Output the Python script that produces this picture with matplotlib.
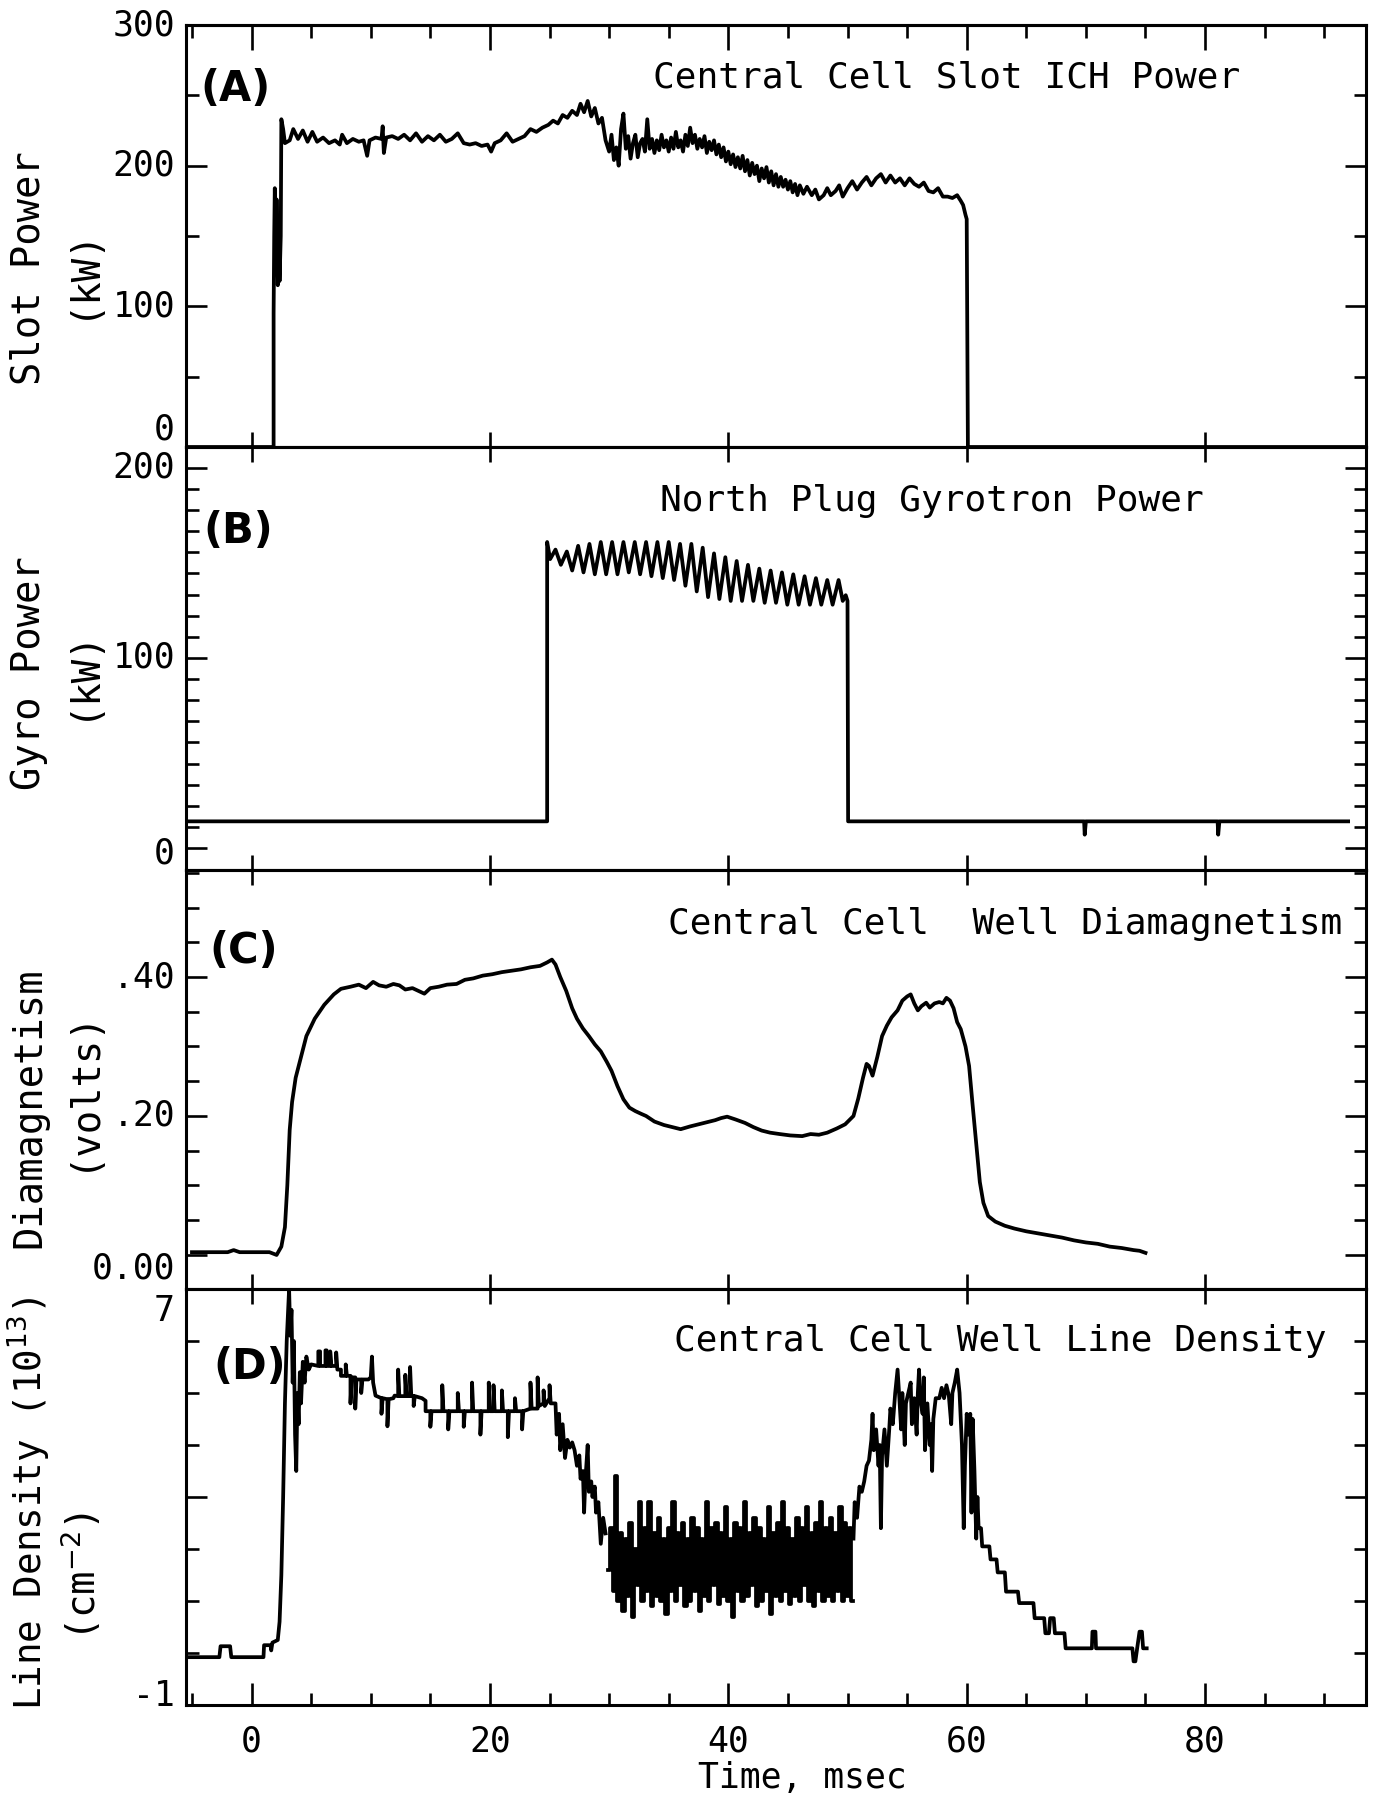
import numpy as np
import matplotlib
matplotlib.use("Agg")
import matplotlib.pyplot as plt
from matplotlib.ticker import MultipleLocator, FixedLocator
from matplotlib.transforms import ScaledTranslation

plt.rcParams['font.family'] = ['DejaVu Sans Mono', 'DejaVu Sans']
plt.rcParams['mathtext.fontset'] = 'dejavusans'

# ---------------------------------------------------------------- data
time_window = (-5.5, 93.5)          # msec

# (A) central cell slot ICH power, kW
slot_power_trace = [
    (-5.5, 0), (1.85, 0), (1.85, 95), (1.9, 150), (1.95, 184), (2.05, 130), (2.1, 176),
    (2.2, 115), (2.3, 160), (2.35, 118), (2.45, 150), (2.5, 233), (2.65, 226), (2.8, 216),
    (3.2, 218), (3.5, 226), (3.9, 219), (4.3, 225), (4.7, 217), (5.1, 224), (5.5, 217),
    (6.0, 220), (6.5, 216), (7.0, 218), (7.4, 215), (7.6, 222), (8.0, 216), (8.5, 219),
    (9.0, 217), (9.4, 218), (9.7, 207), (9.9, 218), (10.4, 220), (10.9, 219), (11.0, 228),
    (11.1, 209), (11.3, 220), (11.8, 221), (12.3, 219), (12.8, 222), (13.3, 218), (13.8, 223),
    (14.3, 217), (14.8, 221), (15.3, 218), (15.8, 222), (16.3, 217), (16.8, 219), (17.3, 223),
    (17.8, 216), (18.3, 215), (18.8, 216), (19.3, 214), (19.8, 215), (20.1, 210), (20.4, 216),
    (20.9, 218), (21.4, 223), (21.9, 217), (22.4, 219), (22.9, 221), (23.4, 226), (23.9, 224),
    (24.4, 227), (24.9, 229), (25.3, 232), (25.7, 230), (26.1, 236), (26.5, 234), (26.9, 239),
    (27.3, 236), (27.6, 244), (27.9, 238), (28.2, 246), (28.5, 235), (28.8, 241), (29.1, 230),
    (29.4, 234), (29.7, 218), (30.0, 210), (30.2, 222), (30.4, 204), (30.6, 213), (30.8, 200),
    (31.0, 226), (31.2, 237), (31.4, 212), (31.6, 221), (31.8, 205), (32.0, 216), (32.2, 222),
    (32.4, 206), (32.6, 216), (32.8, 219), (33.0, 210), (33.2, 233), (33.4, 212), (33.6, 219),
    (33.8, 209), (34.0, 218), (34.2, 211), (34.4, 222), (34.6, 213), (34.8, 218), (35.0, 210),
    (35.2, 220), (35.4, 212), (35.6, 224), (35.8, 213), (36.0, 218), (36.2, 210), (36.4, 222),
    (36.6, 214), (36.8, 227), (37.0, 216), (37.2, 222), (37.4, 212), (37.6, 219), (37.8, 213),
    (38.0, 221), (38.2, 209), (38.4, 217), (38.6, 211), (38.8, 218), (39.0, 208), (39.2, 215),
    (39.4, 206), (39.6, 213), (39.8, 203), (40.0, 210), (40.2, 201), (40.4, 208), (40.6, 199),
    (40.8, 206), (41.0, 198), (41.2, 207), (41.4, 196), (41.6, 204), (41.8, 193), (42.0, 202),
    (42.2, 194), (42.4, 200), (42.6, 189), (42.8, 198), (43.0, 191), (43.2, 199), (43.4, 188),
    (43.6, 196), (43.8, 186), (44.0, 194), (44.2, 185), (44.4, 192), (44.6, 185), (44.8, 190),
    (45.0, 183), (45.2, 189), (45.4, 181), (45.6, 187), (45.8, 179), (46.0, 186), (46.3, 180),
    (46.6, 185), (47.0, 179), (47.3, 183), (47.6, 176), (48.0, 179), (48.3, 184), (48.6, 179),
    (49.0, 182), (49.3, 186), (49.6, 178), (50.0, 184), (50.4, 189), (50.8, 183), (51.2, 188),
    (51.6, 192), (52.0, 186), (52.4, 191), (52.8, 194), (53.2, 188), (53.6, 193), (54.0, 188),
    (54.4, 191), (54.8, 186), (55.2, 191), (55.6, 187), (56.0, 185), (56.4, 188), (56.8, 182),
    (57.2, 181), (57.6, 184), (58.0, 178), (58.4, 178), (58.8, 177), (59.2, 179), (59.5, 175),
    (59.7, 172), (59.9, 165), (60.0, 162), (60.1, 0), (93.5, 0),
]

# (B) north plug gyrotron power, kW
gyro_power_trace = [
    (-5.5, 14), (24.8, 14), (24.8, 161), (25.05, 152),
    (25.5, 157), (25.95, 149), (26.45, 156), (26.9, 146), (27.4, 159), (27.85, 145),
    (28.35, 160), (28.8, 144), (29.3, 161), (29.75, 144), (30.25, 161), (30.7, 144),
    (31.2, 161), (31.65, 145), (32.15, 161), (32.6, 144), (33.1, 161), (33.55, 143),
    (34.05, 161), (34.5, 142), (35.0, 161), (35.45, 141), (35.95, 160), (36.4, 138),
    (36.9, 160), (37.35, 135), (37.85, 158), (38.3, 132), (38.8, 155), (39.25, 131),
    (39.75, 153), (40.2, 130), (40.7, 151), (41.15, 130), (41.65, 149), (42.1, 130),
    (42.6, 147), (43.05, 129), (43.55, 146), (44.0, 129), (44.5, 145), (44.95, 128),
    (45.45, 144), (45.9, 128), (46.4, 143), (46.85, 128), (47.35, 142), (47.8, 128),
    (48.3, 141), (48.75, 128), (49.25, 141), (49.6, 130), (49.85, 133), (50.0, 130),
    (50.05, 14), (69.85, 14), (69.9, 7), (70.0, 14), (81.05, 14), (81.1, 7), (81.2, 14),
    (92.0, 14),
]

# (C) central cell well diamagnetism, volts
diamagnetism_trace = [
    (-5.0, 0.004), (-2.0, 0.004), (-1.5, 0.007), (-1.0, 0.004), (1.5, 0.004), (2.1, 0.0),
    (2.5, 0.012), (2.8, 0.04), (3.0, 0.10), (3.2, 0.18), (3.4, 0.22), (3.7, 0.255),
    (4.0, 0.275), (4.6, 0.315), (5.3, 0.34), (6.1, 0.36), (6.9, 0.375), (7.5, 0.383),
    (8.3, 0.386), (9.0, 0.389), (9.6, 0.384), (10.2, 0.393), (10.7, 0.388), (11.3, 0.386),
    (11.9, 0.390), (12.4, 0.388), (12.9, 0.382), (13.5, 0.384), (14.0, 0.380), (14.5, 0.376),
    (15.0, 0.384), (15.7, 0.386), (16.4, 0.389), (17.2, 0.390), (17.9, 0.396), (18.6, 0.398),
    (19.4, 0.402), (20.2, 0.404), (21.0, 0.407), (21.8, 0.409), (22.6, 0.411), (23.4, 0.414),
    (24.2, 0.416), (24.8, 0.421), (25.2, 0.425), (25.5, 0.418), (25.9, 0.400), (26.4, 0.380),
    (26.9, 0.355), (27.3, 0.340), (27.8, 0.326), (28.3, 0.315), (28.8, 0.303), (29.3, 0.293),
    (29.8, 0.278), (30.2, 0.265), (30.7, 0.243), (31.2, 0.224), (31.7, 0.212), (32.2, 0.207),
    (32.7, 0.203), (33.1, 0.200), (33.8, 0.192), (34.6, 0.187), (35.3, 0.184), (36.0, 0.181),
    (36.8, 0.185), (37.5, 0.188), (38.2, 0.191), (38.9, 0.194), (39.4, 0.197), (39.9, 0.199),
    (40.6, 0.195), (41.4, 0.190), (42.1, 0.184), (42.8, 0.179), (43.5, 0.176), (44.3, 0.174),
    (45.2, 0.172), (46.2, 0.171), (46.9, 0.174), (47.6, 0.173), (48.3, 0.176), (49.1, 0.182),
    (49.8, 0.188), (50.5, 0.200), (50.9, 0.225), (51.3, 0.255), (51.6, 0.275), (51.8, 0.272),
    (52.1, 0.258), (52.5, 0.285), (52.9, 0.315), (53.3, 0.330), (53.7, 0.342), (54.2, 0.352),
    (54.6, 0.366), (55.0, 0.372), (55.3, 0.375), (55.6, 0.362), (55.9, 0.352), (56.2, 0.358),
    (56.6, 0.363), (56.9, 0.356), (57.3, 0.362), (57.7, 0.364), (58.0, 0.362), (58.3, 0.370),
    (58.6, 0.366), (58.9, 0.355), (59.2, 0.335), (59.5, 0.325), (59.9, 0.300), (60.2, 0.272),
    (60.5, 0.215), (60.8, 0.160), (61.1, 0.105), (61.4, 0.075), (61.8, 0.056), (62.4, 0.048),
    (63.2, 0.042), (64.0, 0.038), (65.0, 0.034), (66.0, 0.031), (67.0, 0.028), (68.0, 0.025),
    (69.0, 0.021), (70.0, 0.018), (71.0, 0.016), (72.0, 0.012), (73.0, 0.010), (74.0, 0.007),
    (74.5, 0.006), (75.0, 0.003),
]

# (D) central cell well line density, 1e13 cm^-2
density_trace_early = [
    (-5.3, -0.08), (-2.7, -0.08), (-2.6, 0.13), (-1.8, 0.13), (-1.7, -0.08), (1.0, -0.08),
    (1.05, 0.15), (1.6, 0.15), (1.65, 0.05), (1.75, 0.2), (2.2, 0.25), (2.35, 0.6),
    (2.5, 1.5), (2.65, 3.0), (2.8, 4.8), (2.95, 6.0), (3.05, 6.5), (3.15, 7.0), (3.25, 6.1),
    (3.35, 6.6), (3.45, 5.2), (3.55, 6.0), (3.65, 4.2), (3.75, 3.5), (3.85, 5.0), (3.95, 4.4),
    (4.05, 5.4), (4.15, 4.8), (4.3, 5.6), (4.45, 5.2), (4.6, 5.7), (4.8, 5.45), (5.0, 5.55),
    (5.6, 5.52), (5.6, 5.8), (5.75, 5.8), (5.75, 5.52), (6.2, 5.52), (6.2, 5.82), (6.3, 5.82),
    (6.3, 5.52), (6.6, 5.52), (6.6, 5.8), (6.7, 5.52), (7.1, 5.52), (7.1, 5.78), (7.2, 5.45),
    (7.5, 5.45), (7.5, 5.33), (7.9, 5.33), (7.9, 5.55), (8.0, 5.33), (8.3, 5.33), (8.3, 4.8),
    (8.4, 5.3), (8.7, 5.3), (8.7, 4.7), (8.8, 5.26), (9.2, 5.26), (9.2, 5.0), (9.3, 5.26),
    (9.8, 5.26), (10.0, 5.3), (10.1, 5.7), (10.2, 5.2), (10.4, 4.95), (10.9, 4.9), (10.9, 4.6),
    (11.0, 4.9), (11.4, 4.88), (11.4, 4.36), (11.5, 4.88), (11.9, 4.9), (12.0, 4.95),
    (12.3, 4.94), (12.3, 5.45), (12.4, 4.94), (12.9, 4.94), (12.9, 5.35), (13.0, 4.94),
    (13.3, 4.94), (13.3, 5.5), (13.4, 4.94), (13.6, 4.94), (13.6, 4.75), (13.7, 4.94),
    (14.3, 4.9), (14.6, 4.85), (14.6, 4.65), (15.0, 4.65), (15.0, 4.35), (15.1, 4.65),
    (16.0, 4.65), (16.0, 5.15), (16.1, 4.65), (16.5, 4.65), (16.5, 4.3), (16.6, 4.65),
    (17.3, 4.65), (17.3, 5.0), (17.4, 4.65), (17.8, 4.65), (17.8, 4.35), (17.9, 4.65),
    (18.5, 4.65), (18.5, 5.2), (18.6, 4.65), (19.2, 4.65), (19.2, 4.2), (19.3, 4.65),
    (19.9, 4.65), (19.9, 5.2), (20.0, 4.65), (20.3, 4.65), (20.3, 5.15), (20.4, 4.65),
    (21.0, 4.65), (21.0, 5.05), (21.1, 4.65), (21.5, 4.65), (21.5, 4.15), (21.6, 4.65),
    (22.1, 4.65), (22.1, 4.9), (22.2, 4.65), (22.7, 4.65), (22.7, 4.3), (22.8, 4.65),
    (23.4, 4.7), (23.4, 5.2), (23.5, 4.7), (24.0, 4.7), (24.0, 5.3), (24.1, 4.75),
    (24.5, 4.8), (24.5, 5.05), (24.6, 4.75), (25.0, 4.9), (25.0, 5.15), (25.1, 4.8),
    (25.5, 4.8), (25.6, 4.2), (25.8, 4.6), (25.9, 3.9), (26.1, 4.4), (26.3, 3.75),
    (26.5, 4.1), (26.7, 3.95), (26.9, 4.05), (27.1, 3.9), (27.3, 3.6), (27.5, 3.8),
    (27.6, 3.35), (27.8, 3.5), (27.9, 2.7), (28.0, 3.3), (28.2, 4.0), (28.3, 3.1),
    (28.5, 3.3), (28.6, 3.0), (28.8, 3.2), (28.9, 2.7), (29.1, 2.9), (29.3, 2.1),
    (29.5, 2.6), (29.7, 2.3),
]
# digitizer samples through the low-density phase (start, step in msec)
density_band_t0 = 29.9
density_band_dt = 0.2
density_band = [
    1.6, 2.4, 1.2, 3.4, 1.0, 2.3, 0.8, 2.2, 1.1, 2.5, 0.7, 2.0, 1.3, 2.9, 1.0, 2.4, 1.2, 2.9,
    0.9, 2.3, 1.1, 2.6, 1.0, 2.2, 0.75, 2.4, 1.2, 2.9, 1.0, 2.3, 1.3, 2.5, 0.9, 2.2, 1.0, 2.6,
    1.2, 2.4, 0.8, 2.2, 1.1, 2.9, 1.0, 2.4, 1.3, 2.5, 0.95, 2.3, 1.1, 2.8, 1.0, 2.2, 0.7, 2.5,
    1.2, 2.4, 1.0, 2.9, 1.1, 2.3, 1.3, 2.6, 0.9, 2.4, 1.0, 2.2, 1.2, 2.8, 0.75, 2.3, 1.1, 2.5,
    1.0, 2.9, 1.2, 2.4, 0.95, 2.2, 1.1, 2.6, 1.0, 2.4, 1.3, 2.8, 1.0, 2.3, 0.9, 2.5, 1.2, 2.9,
    1.0, 2.4, 1.1, 2.6, 1.0, 2.3, 1.2, 2.8, 1.0, 2.5, 1.1, 2.4, 1.0,
]
density_trace_late = [
    (50.5, 2.2), (50.6, 2.9), (50.8, 2.6), (51.0, 3.2), (51.2, 3.1), (51.4, 3.3), (51.6, 3.6),
    (51.8, 3.7), (52.0, 4.1), (52.1, 4.6), (52.2, 3.9), (52.4, 4.3), (52.6, 3.6), (52.7, 4.0),
    (52.8, 2.4), (52.9, 3.8), (53.1, 4.3), (53.3, 3.6), (53.5, 4.3), (53.6, 4.7), (53.8, 4.4),
    (54.0, 5.0), (54.2, 5.45), (54.35, 4.9), (54.5, 4.3), (54.6, 5.0), (54.8, 4.0), (54.9, 4.8),
    (55.1, 5.0), (55.3, 5.2), (55.4, 4.4), (55.6, 4.9), (55.8, 4.2), (55.9, 5.0), (56.0, 5.45),
    (56.1, 4.9), (56.3, 4.6), (56.4, 5.3), (56.5, 3.9), (56.7, 4.8), (56.9, 4.0), (57.0, 4.4),
    (57.1, 3.5), (57.2, 4.5), (57.4, 4.9), (57.7, 4.9), (57.9, 5.1), (58.1, 4.9), (58.3, 5.15),
    (58.5, 4.95), (58.7, 4.4), (58.8, 5.0), (59.0, 5.2), (59.2, 5.45), (59.4, 5.0), (59.6, 4.0),
    (59.75, 2.4), (59.85, 3.6), (60.0, 4.6), (60.15, 4.2), (60.3, 4.6), (60.4, 2.7), (60.5, 4.5),
    (60.65, 3.5), (60.8, 2.2), (60.9, 3.0), (61.0, 2.4), (61.2, 2.4), (61.3, 2.05), (61.9, 2.05),
    (62.0, 1.8), (62.5, 1.8), (62.6, 1.55), (63.2, 1.55), (63.3, 1.18), (64.3, 1.18),
    (64.4, 0.96), (65.6, 0.96), (65.7, 0.67), (66.5, 0.67), (66.6, 0.38), (66.9, 0.38),
    (67.0, 0.67), (67.3, 0.67), (67.4, 0.38), (68.2, 0.38), (68.3, 0.09), (70.5, 0.09),
    (70.55, 0.41), (70.8, 0.41), (70.85, 0.09), (73.9, 0.09), (74.0, -0.16), (74.15, -0.16),
    (74.3, 0.09), (74.5, 0.41), (74.7, 0.41), (74.8, 0.09), (75.1, 0.09),
]

x_tick_values = [0, 20, 40, 60, 80]
x_tick_labels = ['0', '20', '40', '60', '80']

# ---------------------------------------------------------------- figure
W, H = 1398, 1797
fig = plt.figure(figsize=(W / 100, H / 100), dpi=100)

LEFT, RIGHT = 186, 1366
panel_rows = [(25, 447), (447, 870), (870, 1289), (1289, 1705)]


def make_axes(top_px, bottom_px):
    return fig.add_axes([LEFT / W, 1 - bottom_px / H, (RIGHT - LEFT) / W,
                         (bottom_px - top_px) / H])


LW_FRAME = 2.2
LW_TICK = 1.9
LW_DATA = 2.7
TICK_FS = 25


def style_axes(ax, ylim, top_major=11, top_minor=None):
    ax.set_xlim(*time_window)
    ax.set_ylim(*ylim)
    for s in ax.spines.values():
        s.set_linewidth(LW_FRAME)
    ax.xaxis.set_major_locator(MultipleLocator(20))
    ax.tick_params(axis='x', which='both', direction='in', bottom=True, top=False,
                   labelbottom=False, width=LW_TICK, length=11)
    ax.tick_params(axis='y', which='both', direction='in', left=True, right=True,
                   labelleft=False, labelright=False, width=LW_TICK)
    ax.tick_params(axis='y', which='major', length=15)
    ax.tick_params(axis='y', which='minor', length=9)
    top = ax.secondary_xaxis('top')
    top.xaxis.set_major_locator(MultipleLocator(20))
    if top_minor is not None:
        top.xaxis.set_minor_locator(MultipleLocator(5))
        top.tick_params(axis='x', which='minor', direction='in', width=LW_TICK,
                        length=top_minor)
    top.tick_params(axis='x', which='major', direction='in', labeltop=False,
                    width=LW_TICK, length=top_major)
    top.spines['top'].set_linewidth(LW_FRAME)


def y_label_text(ax, value, text, dy_px=0):
    tr = ax.get_yaxis_transform() + ScaledTranslation(-11 / 100, -dy_px / 100,
                                                      fig.dpi_scale_trans)
    ax.text(0, value, text, transform=tr, ha='right', va='center', fontsize=TICK_FS)


def plot_pairs(ax, pairs, **kw):
    t = [p[0] for p in pairs]
    v = [p[1] for p in pairs]
    ax.plot(t, v, color='black', lw=LW_DATA, solid_joinstyle='round', **kw)


# (A)
axA = make_axes(*panel_rows[0])
style_axes(axA, (0, 300), top_major=18, top_minor=9)
axA.yaxis.set_major_locator(FixedLocator([0, 100, 200, 300]))
axA.yaxis.set_minor_locator(FixedLocator([50, 150, 250]))
plot_pairs(axA, slot_power_trace)
y_label_text(axA, 300, '300')
y_label_text(axA, 200, '200')
y_label_text(axA, 100, '100')
y_label_text(axA, 0, '0', dy_px=-17)

# (B)
axB = make_axes(*panel_rows[1])
style_axes(axB, (-11.6, 211))
axB.yaxis.set_major_locator(FixedLocator([0, 100, 200]))
axB.yaxis.set_minor_locator(FixedLocator(np.linspace(0, 200, 19)))
plot_pairs(axB, gyro_power_trace)
y_label_text(axB, 200, '200')
y_label_text(axB, 100, '100')
y_label_text(axB, 0, '0', dy_px=6)

# (C)
axC = make_axes(*panel_rows[2])
style_axes(axC, (-0.049, 0.554))
axC.yaxis.set_major_locator(FixedLocator([0.0, 0.2, 0.4]))
axC.yaxis.set_minor_locator(MultipleLocator(0.05))
plot_pairs(axC, diamagnetism_trace)
y_label_text(axC, 0.4, '.40')
y_label_text(axC, 0.2, '.20')
y_label_text(axC, 0.0, '0.00', dy_px=14)

# (D)
axD = make_axes(*panel_rows[3])
style_axes(axD, (-1, 7))
axD.yaxis.set_major_locator(FixedLocator([-1, 3, 7]))
axD.yaxis.set_minor_locator(FixedLocator([0, 1, 2, 4, 5, 6]))
axD.xaxis.set_minor_locator(MultipleLocator(5))
axD.tick_params(axis='x', which='major', length=16)
axD.tick_params(axis='x', which='minor', length=9)
axD.set_xticks(x_tick_values, x_tick_labels)
axD.tick_params(axis='x', labelbottom=True, labelsize=TICK_FS, pad=14)
plot_pairs(axD, density_trace_early)
band_t, band_v = [], []
for i, v in enumerate(density_band):
    t0 = density_band_t0 + i * density_band_dt
    band_t += [t0, t0 + density_band_dt]
    band_v += [v, v]
axD.plot(band_t, band_v, color='black', lw=LW_DATA)
plot_pairs(axD, density_trace_late)
y_label_text(axD, 7, '7', dy_px=22)
y_label_text(axD, -1, '-1', dy_px=-9)

# ---------------------------------------------------------------- text
TITLE_FS = 26


def fig_text(px, py, s, **kw):
    fig.text(px / W, 1 - py / H, s, **kw)


fig_text(653, 78, 'Central Cell Slot ICH Power', ha='left', va='center', fontsize=TITLE_FS)
fig_text(660, 501, 'North Plug Gyrotron Power', ha='left', va='center', fontsize=TITLE_FS)
fig_text(668, 924, 'Central Cell  Well Diamagnetism', ha='left', va='center', fontsize=TITLE_FS)
fig_text(674, 1341, 'Central Cell Well Line Density', ha='left', va='center', fontsize=TITLE_FS)

for (px, py, s) in [(235, 89, '(A)'), (238, 531, '(B)'), (244, 951, '(C)'), (250, 1367, '(D)')]:
    fig_text(px, py, s, ha='center', va='center', fontsize=30, family='DejaVu Sans',
             weight='bold')

YL_FS = 28
fig_text(29, 268, 'Slot Power', rotation=90, ha='center', va='center', fontsize=YL_FS)
fig_text(82, 272, '(kW)', rotation=90, ha='center', va='center', fontsize=YL_FS)
fig_text(29, 673, 'Gyro Power', rotation=90, ha='center', va='center', fontsize=YL_FS)
fig_text(82, 673, '(kW)', rotation=90, ha='center', va='center', fontsize=YL_FS)
fig_text(29, 1108, 'Diamagnetism', rotation=90, ha='center', va='center', fontsize=YL_FS)
fig_text(82, 1089, '(volts)', rotation=90, ha='center', va='center', fontsize=YL_FS)
fig_text(29, 1504, r'Line Density (10$^{13}$)', rotation=90, ha='center', va='center',
         fontsize=27)
fig_text(82, 1576, r'(cm$^{-2}$)', rotation=90, ha='center', va='center', fontsize=YL_FS)

fig_text(802, 1778, 'Time, msec', ha='center', va='center', fontsize=TICK_FS)

fig.savefig('out.png', dpi=100, facecolor='white')
